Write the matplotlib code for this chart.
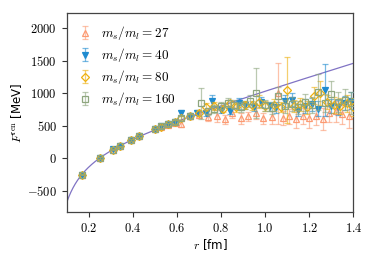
import numpy as np
import matplotlib
matplotlib.use("Agg")
import matplotlib.pyplot as plt
from matplotlib.ticker import FuncFormatter

plt.rcParams['mathtext.fontset'] = 'cm'
plt.rcParams['font.family'] = ['DejaVu Sans']

# ---- data ----
labels = [r"$m_s/m_l = 27$", r"$m_s/m_l = 40$", r"$m_s/m_l = 80$", r"$m_s/m_l = 160$"]

r27 = [0.17, 0.25, 0.31, 0.34, 0.39, 0.43, 0.50, 0.53, 0.56, 0.59, 0.62, 0.66, 0.70, 0.74, 0.78, 0.82,
       0.85, 0.89, 0.92, 0.96, 0.99, 1.03, 1.06, 1.08, 1.11, 1.14, 1.17, 1.20, 1.23, 1.26, 1.29, 1.32, 1.35, 1.38]
V27 = [-258, -2, 128, 178, 272, 338, 445, 480, 515, 545, 530, 640, 660, 630, 650, 600,
       700, 610, 640, 690, 610, 630, 1000, 620, 640, 600, 650, 620, 640, 600, 700, 720, 680, 650]
E27 = [15, 12, 15, 15, 15, 18, 25, 30, 30, 40, 45, 40, 50, 60, 90, 70,
       80, 90, 70, 90, 80, 100, 470, 110, 110, 140, 120, 150, 130, 170, 140, 160, 150, 180]

r40 = [0.17, 0.25, 0.31, 0.34, 0.39, 0.43, 0.50, 0.53, 0.56, 0.59, 0.62, 0.66, 0.69, 0.73, 0.76, 0.80,
       0.84, 0.88, 0.91, 0.95, 0.98, 1.02, 1.05, 1.09, 1.12, 1.15, 1.18, 1.21, 1.24, 1.27, 1.30, 1.33, 1.36, 1.39]
V40 = [-255, 0, 132, 182, 278, 342, 452, 488, 522, 558, 700, 650, 700, 690, 880, 740,
       730, 840, 820, 790, 860, 800, 780, 880, 900, 740, 800, 830, 760, 1050, 800, 780, 850, 880]
E40 = [10, 10, 10, 12, 12, 15, 20, 20, 25, 30, 40, 35, 40, 45, 90, 50,
       50, 90, 60, 60, 80, 70, 80, 90, 100, 90, 110, 100, 120, 400, 110, 120, 110, 130]

r80 = [0.17, 0.25, 0.31, 0.34, 0.39, 0.43, 0.50, 0.53, 0.56, 0.59, 0.62, 0.66, 0.70, 0.73, 0.77, 0.81,
       0.84, 0.87, 0.91, 0.94, 0.97, 1.00, 1.04, 1.07, 1.10, 1.13, 1.16, 1.19, 1.22, 1.25, 1.28, 1.31, 1.34, 1.37, 1.40]
V80 = [-257, 2, 130, 180, 275, 340, 448, 485, 520, 552, 610, 645, 700, 790, 800, 760,
       840, 780, 820, 810, 870, 800, 820, 790, 1050, 800, 830, 780, 960, 1000, 860, 820, 800, 840, 790]
E80 = [10, 10, 10, 10, 12, 15, 20, 22, 25, 30, 35, 40, 45, 50, 60, 55,
       60, 70, 60, 70, 100, 80, 90, 80, 510, 90, 100, 100, 130, 180, 110, 120, 120, 130, 140]

r160 = [0.17, 0.25, 0.31, 0.34, 0.39, 0.43, 0.50, 0.53, 0.56, 0.59, 0.62, 0.66, 0.71, 0.74, 0.77, 0.80,
        0.83, 0.86, 0.89, 0.93, 0.96, 1.00, 1.03, 1.06, 1.09, 1.12, 1.15, 1.18, 1.21, 1.24, 1.27, 1.30, 1.33, 1.36, 1.39]
V160 = [-256, 1, 131, 181, 276, 341, 450, 486, 521, 555, 615, 648, 840, 720, 760, 800,
        850, 820, 790, 880, 1000, 810, 770, 950, 800, 830, 780, 860, 820, 1020, 850, 990, 860, 900, 850]
E160 = [10, 10, 10, 10, 12, 14, 20, 22, 25, 28, 35, 35, 240, 50, 60, 60,
        70, 70, 80, 90, 380, 80, 90, 140, 100, 110, 100, 130, 120, 280, 140, 200, 150, 160, 170]

# Cornell-type fit parameters: V = -A/r + sigma*r + c
fit_A = 89.7
fit_sigma = 1013.0
fit_c = 105.0

colors = ['#fc9a72', '#1f8bd0', '#eeb010', '#8ea67e']
markers = ['^', 'v', 'D', 's']
msizes = [4.5, 4.5, 4, 5]
fills = ['none', '#1f8bd0', 'none', 'none']

fig = plt.figure(figsize=(3.74, 2.62), dpi=100)
ax = fig.add_axes([0.178, 0.191, 0.767, 0.761])

rr = np.linspace(0.1, 1.4, 400)
ax.plot(rr, -fit_A / rr + fit_sigma * rr + fit_c, color='#8073c4', lw=0.9, zorder=1)

series = [(r27, V27, E27), (r40, V40, E40), (r80, V80, E80), (r160, V160, E160)]
for i, (x, y, e) in enumerate(series):
    eb = ax.errorbar(x, y, yerr=e, fmt=markers[i], color=colors[i], mfc=fills[i], mec=colors[i],
                     ms=msizes[i], mew=0.9, elinewidth=0.9, capsize=2, capthick=0.9, ecolor=colors[i],
                     label=labels[i], zorder=2 + i)
    for coll in eb[2]:
        coll.set_alpha(0.6)
    for cap in eb[1]:
        cap.set_alpha(0.6)

ax.set_xlim(0.1, 1.4)
ax.set_ylim(-830, 2240)
ax.set_xticks([0.2, 0.4, 0.6, 0.8, 1.0, 1.2, 1.4])
ax.set_yticks([-500, 0, 500, 1000, 1500, 2000])
ax.xaxis.set_major_formatter(FuncFormatter(lambda v, p: r"$%.1f$" % v))
ax.yaxis.set_major_formatter(FuncFormatter(lambda v, p: r"$%d$" % v if v >= 0 else r"$-%d$" % (-v)))
ax.tick_params(labelsize=9, length=3.5, width=0.8, color='#333333')
for s in ax.spines.values():
    s.set_color('#444444')
    s.set_linewidth(0.9)

ax.set_xlabel(r"$r$ [fm]", fontsize=8.5, labelpad=2)
ax.set_ylabel(r"$F^{\rm ren}$ [MeV]", fontsize=8.5, labelpad=2)

leg = ax.legend(loc='upper left', frameon=False, fontsize=9.5, handlelength=1.0,
                handletextpad=0.7, labelspacing=0.3, borderaxespad=0.5)

fig.savefig("out.png", dpi=100)
